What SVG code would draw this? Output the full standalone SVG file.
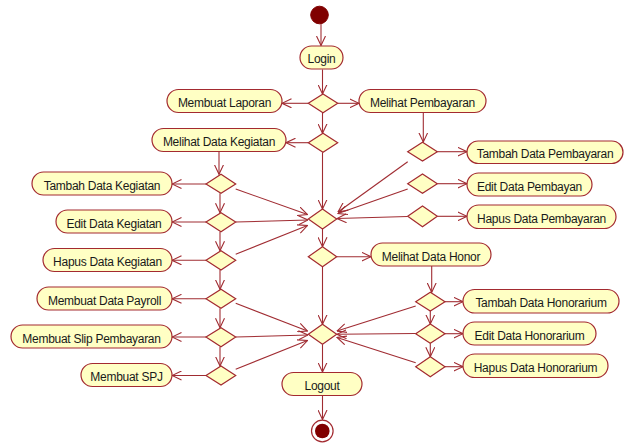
<svg xmlns="http://www.w3.org/2000/svg" width="624" height="445" viewBox="0 0 624 445">
<defs>
<style>
.act{fill:#FFFFC4;stroke:#A32A30;stroke-width:1.2}
.dec{fill:#FFFFC4;stroke:#A32A30;stroke-width:1.2}
.t{font-family:"Liberation Sans",Arial,sans-serif;font-size:12px;letter-spacing:-0.28px;fill:#1a1a1a;text-anchor:middle}
.c line,.c path{stroke:#A02C32;stroke-width:1.1;fill:none}
</style>
<marker id="a" viewBox="0 0 10 10" refX="9.5" refY="5" markerWidth="10" markerHeight="10" markerUnits="userSpaceOnUse" orient="auto">
<path d="M0,0.5 L9.5,5 L0,9.5" fill="none" stroke="#A02C32" stroke-width="1.1"/>
</marker>
</defs>
<rect width="624" height="445" fill="#ffffff"/>

<g class="c" id="connectors">
<line x1="321" y1="24" x2="321" y2="45.5" marker-end="url(#a)"/>
<line x1="322.5" y1="69.5" x2="322.5" y2="94" marker-end="url(#a)"/>
<line x1="308.3" y1="103.3" x2="282" y2="103.3" marker-end="url(#a)"/>
<line x1="337.7" y1="103.3" x2="359" y2="103.3" marker-end="url(#a)"/>
<line x1="322.5" y1="112.7" x2="322.5" y2="133.3" marker-end="url(#a)"/>
<line x1="308.3" y1="142.7" x2="286" y2="142.7" marker-end="url(#a)"/>
<line x1="322.5" y1="152.3" x2="322.5" y2="209" marker-end="url(#a)"/>
<line x1="423.3" y1="112.7" x2="423.3" y2="142" marker-end="url(#a)"/>
<line x1="437.3" y1="151.7" x2="467" y2="151.7" marker-end="url(#a)"/>
<line x1="437.3" y1="183.7" x2="467" y2="183.7" marker-end="url(#a)"/>
<line x1="437.3" y1="216.3" x2="467" y2="216.3" marker-end="url(#a)"/>
<line x1="407.7" y1="161.7" x2="338" y2="212" marker-end="url(#a)"/>
<line x1="407.7" y1="189" x2="338" y2="213.5" marker-end="url(#a)"/>
<line x1="407.7" y1="216.5" x2="337" y2="218.5" marker-end="url(#a)"/>
<line x1="219" y1="151.7" x2="219" y2="174.3" marker-end="url(#a)"/>
<line x1="206" y1="184" x2="172" y2="184" marker-end="url(#a)"/>
<line x1="220" y1="193.3" x2="220" y2="212.7" marker-end="url(#a)"/>
<line x1="206" y1="222" x2="172" y2="222" marker-end="url(#a)"/>
<line x1="220" y1="231.7" x2="220" y2="250.7" marker-end="url(#a)"/>
<line x1="206" y1="260.3" x2="172" y2="260.3" marker-end="url(#a)"/>
<line x1="220" y1="270" x2="220" y2="289.3" marker-end="url(#a)"/>
<line x1="206" y1="298.8" x2="172" y2="298.8" marker-end="url(#a)"/>
<line x1="220" y1="308.3" x2="220" y2="327.7" marker-end="url(#a)"/>
<line x1="206" y1="337" x2="172" y2="337" marker-end="url(#a)"/>
<line x1="220" y1="346.7" x2="220" y2="366" marker-end="url(#a)"/>
<line x1="206" y1="375.5" x2="172" y2="375.5" marker-end="url(#a)"/>
<line x1="235.7" y1="189" x2="307.5" y2="214.5" marker-end="url(#a)"/>
<line x1="235.7" y1="222" x2="308" y2="220" marker-end="url(#a)"/>
<line x1="235.7" y1="254.3" x2="307.5" y2="225.5" marker-end="url(#a)"/>
<line x1="322.5" y1="229" x2="322.5" y2="246.7" marker-end="url(#a)"/>
<line x1="336.7" y1="256.7" x2="371" y2="256.7" marker-end="url(#a)"/>
<line x1="322.5" y1="266.7" x2="322.5" y2="324.3" marker-end="url(#a)"/>
<line x1="431.7" y1="266" x2="431.7" y2="292.3" marker-end="url(#a)"/>
<line x1="445" y1="301.7" x2="463" y2="301.7" marker-end="url(#a)"/>
<line x1="430.3" y1="311" x2="430.3" y2="324" marker-end="url(#a)"/>
<line x1="445" y1="333.7" x2="463" y2="333.7" marker-end="url(#a)"/>
<line x1="430.3" y1="343.3" x2="430.3" y2="356.7" marker-end="url(#a)"/>
<line x1="445" y1="366.7" x2="463" y2="366.7" marker-end="url(#a)"/>
<line x1="415.7" y1="306" x2="337" y2="331" marker-end="url(#a)"/>
<line x1="415.7" y1="333.5" x2="337" y2="334.3" marker-end="url(#a)"/>
<line x1="415.7" y1="362.7" x2="337" y2="337.5" marker-end="url(#a)"/>
<line x1="235.7" y1="303.3" x2="307.5" y2="331" marker-end="url(#a)"/>
<line x1="235.7" y1="337" x2="308" y2="335" marker-end="url(#a)"/>
<line x1="235.7" y1="369.3" x2="307.5" y2="340.5" marker-end="url(#a)"/>
<line x1="322.5" y1="344.3" x2="322.5" y2="372" marker-end="url(#a)"/>
<line x1="322.5" y1="395.7" x2="322.5" y2="419.5" marker-end="url(#a)"/>
</g>

<g id="start"><circle cx="319.5" cy="15" r="8.8" fill="#800000" stroke="#800000"/></g>

<g id="login"><rect class="act" x="300" y="46" width="43" height="23" rx="11.5"/><text class="t" x="321.5" y="62.5">Login</text></g>
<g id="d1"><polygon class="dec" points="308.3,103.3 323,94 337.7,103.3 323,112.7"/></g>
<g id="membuat-laporan"><rect class="act" x="167" y="89.5" width="115" height="23" rx="11.5"/><text class="t" x="224.5" y="107">Membuat Laporan</text></g>
<g id="melihat-pembayaran"><rect class="act" x="359" y="89.5" width="127" height="23" rx="11.5"/><text class="t" x="422.5" y="107">Melihat Pembayaran</text></g>
<g id="d2"><polygon class="dec" points="308.3,142.7 323,133.3 337.7,142.7 323,152.3"/></g>
<g id="melihat-data-kegiatan"><rect class="act" x="152" y="128.5" width="134" height="23" rx="11.5"/><text class="t" x="219" y="146">Melihat Data Kegiatan</text></g>

<g id="d-tambah-pemb"><polygon class="dec" points="407.7,151.7 422.5,142.3 437.3,151.7 422.5,161"/></g>
<g id="tambah-data-pembayaran"><rect class="act" x="467" y="141" width="156" height="22.5" rx="11.2"/><text class="t" x="545" y="158">Tambah Data Pembayaran</text></g>
<g id="d-edit-pemb"><polygon class="dec" points="407.7,183.7 422.5,174 437.3,183.7 422.5,193.3"/></g>
<g id="edit-data-pembayan"><rect class="act" x="467" y="173" width="125" height="23" rx="11.5"/><text class="t" x="529.5" y="190.5">Edit Data Pembayan</text></g>
<g id="d-hapus-pemb"><polygon class="dec" points="407.7,216.3 422.5,206 437.3,216.3 422.5,226.7"/></g>
<g id="hapus-data-pembayaran"><rect class="act" x="467" y="205" width="149" height="23.5" rx="11.7"/><text class="t" x="541.5" y="222.5">Hapus Data Pembayaran</text></g>

<g id="merge1"><polygon class="dec" points="308.3,219 322.5,209 336.7,219 322.5,229"/></g>
<g id="d-honor"><polygon class="dec" points="308.3,256.7 322.5,246.7 336.7,256.7 322.5,266.7"/></g>
<g id="melihat-data-honor"><rect class="act" x="371" y="243" width="120" height="23" rx="11.5"/><text class="t" x="431" y="260.5">Melihat Data Honor</text></g>

<g id="d-tambah-keg"><polygon class="dec" points="206,184 221,174.3 235.7,184 221,193.3"/></g>
<g id="tambah-data-kegiatan"><rect class="act" x="32" y="172" width="140" height="23" rx="11.5"/><text class="t" x="102" y="189.5">Tambah Data Kegiatan</text></g>
<g id="d-edit-keg"><polygon class="dec" points="206,222 221,212.7 235.7,222 221,231.7"/></g>
<g id="edit-data-kegiatan"><rect class="act" x="56" y="210" width="116" height="23" rx="11.5"/><text class="t" x="114" y="227.5">Edit Data Kegiatan</text></g>
<g id="d-hapus-keg"><polygon class="dec" points="206,260.3 221,250.7 235.7,260.3 221,270"/></g>
<g id="hapus-data-kegiatan"><rect class="act" x="43" y="248.5" width="129" height="23" rx="11.5"/><text class="t" x="107.5" y="266">Hapus Data Kegiatan</text></g>
<g id="d-payroll"><polygon class="dec" points="206,298.8 221,289.3 235.7,298.8 221,308.3"/></g>
<g id="membuat-data-payroll"><rect class="act" x="37" y="287" width="135" height="23" rx="11.5"/><text class="t" x="104.5" y="304.5">Membuat Data Payroll</text></g>
<g id="d-slip"><polygon class="dec" points="206,337 221,327.7 235.7,337 221,346.7"/></g>
<g id="membuat-slip-pembayaran"><rect class="act" x="11" y="325" width="161" height="23" rx="11.5"/><text class="t" x="91.5" y="342.5">Membuat Slip Pembayaran</text></g>
<g id="d-spj"><polygon class="dec" points="206,375.5 221,366 235.7,375.5 221,385"/></g>
<g id="membuat-spj"><rect class="act" x="81" y="363.5" width="91" height="23" rx="11.5"/><text class="t" x="126.5" y="381">Membuat SPJ</text></g>

<g id="d-tambah-hon"><polygon class="dec" points="415.7,301.7 430.3,292.3 445,301.7 430.3,311"/></g>
<g id="tambah-data-honorarium"><rect class="act" x="463" y="289.5" width="156" height="23.5" rx="11.7"/><text class="t" x="541" y="307">Tambah Data Honorarium</text></g>
<g id="d-edit-hon"><polygon class="dec" points="415.7,333.7 430.3,324 445,333.7 430.3,343.3"/></g>
<g id="edit-data-honorarium"><rect class="act" x="463" y="322" width="133" height="23" rx="11.5"/><text class="t" x="529.5" y="339.5">Edit Data Honorarium</text></g>
<g id="d-hapus-hon"><polygon class="dec" points="415.7,366.7 430.3,356.7 445,366.7 430.3,376.7"/></g>
<g id="hapus-data-honorarium"><rect class="act" x="463" y="354" width="145" height="23.5" rx="11.7"/><text class="t" x="535.5" y="371.5">Hapus Data Honorarium</text></g>

<g id="merge2"><polygon class="dec" points="308.3,334.3 322.5,324.3 336.7,334.3 322.5,344.3"/></g>
<g id="logout"><rect class="act" x="282" y="372.5" width="80" height="23" rx="11.5"/><text class="t" x="322" y="390">Logout</text></g>
<g id="end"><circle cx="322.3" cy="431" r="10.8" fill="#ffffff" stroke="#A32A30" stroke-width="1.2"/><circle cx="322.3" cy="431" r="7.3" fill="#800000"/></g>
</svg>
